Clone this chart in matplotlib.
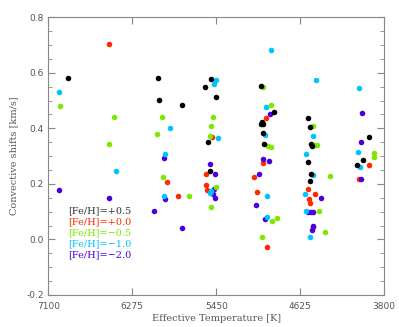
import matplotlib
matplotlib.use("Agg")
import matplotlib.pyplot as plt
from matplotlib.ticker import MultipleLocator, FixedLocator

# Data: (Teff [K], convective shift [km/s]) per metallicity
black_T = [6907, 6025, 6010, 5787, 5506, 5558, 5457, 5529, 5509, 5008, 4878, 5005, 5015, 4995,
           4989, 4979, 4552, 4532, 4522, 4507, 4544, 4522, 4525, 3952, 4009, 4065]
black_v = [0.583, 0.580, 0.501, 0.483, 0.577, 0.549, 0.514, 0.350, 0.245, 0.551, 0.459, 0.422, 0.414, 0.417,
           0.384, 0.344, 0.436, 0.404, 0.345, 0.336, 0.279, 0.237, 0.212, 0.369, 0.287, 0.268]

red_T = [6501, 5934, 5823, 5492, 5555, 5548, 5539, 4959, 4986, 5080, 5052, 4949,
         4545, 4485, 4539, 4525, 4495, 3948, 4049]
red_v = [0.704, 0.208, 0.158, 0.368, 0.237, 0.195, 0.178, 0.439, 0.274, 0.226, 0.171, -0.026,
         0.183, 0.163, 0.147, 0.131, 0.045, 0.267, 0.219]

green_T = [6985, 6455, 6504, 5985, 6036, 5969, 5715, 5478, 5506, 5512, 5453, 5497, 4991, 4908,
           4937, 4910, 4907, 4854, 4998, 4498, 4480, 4457, 4337, 4437, 4378, 3896, 3896]
green_v = [0.480, 0.442, 0.342, 0.442, 0.380, 0.224, 0.156, 0.440, 0.409, 0.373, 0.189, 0.116, 0.548, 0.486,
           0.336, 0.334, 0.067, 0.078, 0.008, 0.407, 0.341, 0.341, 0.228, 0.101, 0.028, 0.312, 0.296]

cyan_T = [6999, 6435, 5905, 5958, 5961, 5450, 5477, 5435, 5516, 5497, 4913, 4964, 4974, 4952, 4947,
          4468, 4504, 4569, 4496, 4583, 4564, 4530, 4043, 4058, 4036]
cyan_v = [0.531, 0.246, 0.401, 0.306, 0.156, 0.576, 0.560, 0.364, 0.168, 0.174, 0.684, 0.478, 0.375, 0.155, 0.082,
          0.574, 0.371, 0.306, 0.232, 0.163, 0.103, 0.009, 0.545, 0.314, 0.260]

blue_T = [6999, 6501, 5961, 5951, 6064, 5787, 5507, 5465, 5475, 5483, 5458, 4925, 4987, 4935, 5033,
          5055, 4972, 4421, 4547, 4524, 4500, 4495, 4505, 4016, 4033, 4033]
blue_v = [0.178, 0.150, 0.294, 0.147, 0.103, 0.040, 0.272, 0.237, 0.181, 0.164, 0.148, 0.451, 0.288, 0.284, 0.237,
          0.123, 0.075, 0.149, 0.099, 0.099, 0.099, 0.049, 0.035, 0.454, 0.351, 0.219]

legend_labels = ["[Fe/H]=+0.5", "[Fe/H]=+0.0", "[Fe/H]=\u22120.5", "[Fe/H]=\u22121.0", "[Fe/H]=\u22122.0"]
x_ticks = [7100, 6275, 5450, 4625, 3800]

c_black = "#000000"
c_red = "#ff2a00"
c_green = "#7ee800"
c_cyan = "#00c4ff"
c_blue = "#4a00dc"

fig = plt.figure(figsize=(3.99, 3.27), dpi=100)
ax = fig.add_axes([0.121, 0.098, 0.842, 0.849])

s = 16
ax.scatter(red_T, red_v, s=s, color=c_red, linewidths=0, zorder=3)
ax.scatter(blue_T, blue_v, s=s, color=c_blue, linewidths=0, zorder=4)
ax.scatter(cyan_T, cyan_v, s=s, color=c_cyan, linewidths=0, zorder=5)
ax.scatter(green_T, green_v, s=s, color=c_green, linewidths=0, zorder=6)
ax.scatter(black_T, black_v, s=s, color=c_black, linewidths=0, zorder=7)

ax.set_xlim(7100, 3800)
ax.set_ylim(-0.2, 0.8)
ax.xaxis.set_major_locator(FixedLocator(x_ticks))
ax.set_xticklabels([str(t) for t in x_ticks])
ax.yaxis.set_major_locator(MultipleLocator(0.2))
ax.yaxis.set_minor_locator(MultipleLocator(0.05))
ax.yaxis.set_major_formatter(matplotlib.ticker.FormatStrFormatter("%.1f"))

gray = "#555555"
for sp in ax.spines.values():
    sp.set_color("#888888")
    sp.set_linewidth(0.8)
ax.tick_params(axis="both", which="both", direction="in", top=True, right=True,
               color="#888888", labelcolor=gray, labelsize=6.5, pad=3)
ax.tick_params(axis="both", which="major", length=5)
ax.tick_params(axis="both", which="minor", length=3)
ax.tick_params(axis="x", which="major", pad=5)

ax.set_xlabel("Effective Temperature [K]", fontsize=7, color=gray, family="DejaVu Serif", labelpad=2)
ax.set_ylabel("Convective shifts [km/s]", fontsize=7, color=gray, family="DejaVu Serif", labelpad=6)

leg_colors = [c_black, c_red, c_green, c_cyan, c_blue]
for i, (lab, col) in enumerate(zip(legend_labels, leg_colors)):
    ax.text(0.06, 0.305 - i * 0.0405, lab, transform=ax.transAxes, color=col if col != c_black else "#333333",
            fontsize=7, family="DejaVu Serif", va="center", ha="left")

fig.savefig("out.png", dpi=100)
